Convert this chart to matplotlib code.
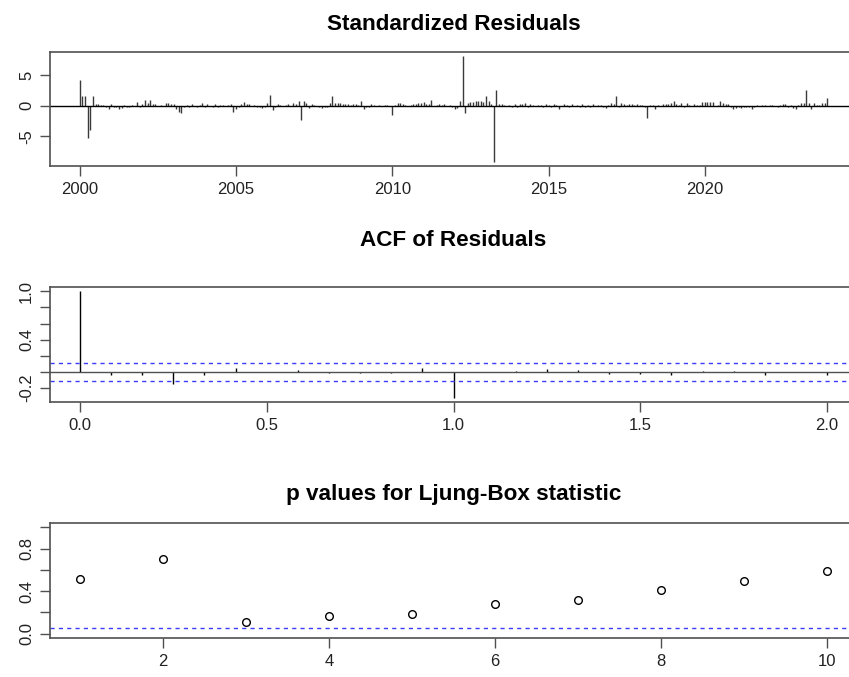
import matplotlib

matplotlib.use("Agg")
import matplotlib.pyplot as plt
import numpy as np

# ── data (tsdiag of a monthly ARIMA fit, 2000-01 .. 2023-12) ──
start_year = 2000
freq = 12
std_resid = [
    4.25, 1.5, 1.5, -5.3, -4.0, 1.5, 0.3, 0.2, 0.1, 0.05, -0.2, -0.6,     # 2000
    0.2, -0.3, -0.2, -0.5, -0.4, 0.1, -0.3, -0.2, 0.15, -0.1, 0.6, -0.3,  # 2001
    0.3, 1.0, 0.5, 1.0, 0.3, 0.2, -0.1, 0.05, -0.1, 0.4, 0.5, 0.3,        # 2002
    0.2, -0.5, -1.0, -1.2, -0.3, 0.1, -0.2, 0.2, -0.1, -0.2, 0.1, 0.4,    # 2003
    -0.2, 0.3, -0.1, -0.3, 0.2, -0.2, 0.1, 0.05, -0.1, 0.1, 0.3, -1.0,    # 2004
    -0.5, -0.3, 0.3, 0.6, 0.2, 0.2, -0.1, 0.1, -0.2, -0.3, -0.4, -0.2,    # 2005
    0.5, 1.8, -0.7, -0.3, 0.2, 0.05, -0.1, 0.1, 0.2, -0.1, 0.5, 0.3,      # 2006
    0.7, -2.3, 0.8, 0.4, -0.4, 0.2, 0.1, -0.1, -0.3, -0.4, -0.2, -0.3,    # 2007
    0.5, 1.5, 0.5, 0.4, 0.4, 0.2, 0.3, 0.3, 0.1, 0.2, 0.2, 0.1,           # 2008
    0.8, -0.5, -0.3, -0.2, 0.2, 0.1, -0.1, 0.1, -0.1, 0.05, 0.1, -0.1,    # 2009
    -1.6, 0.1, 0.4, 0.4, 0.3, 0.05, -0.1, 0.1, 0.2, 0.3, 0.4, 0.5,        # 2010
    0.6, 0.2, 0.3, 1.0, -0.1, 0.1, 0.2, 0.1, 0.2, -0.1, 0.1, -0.3,        # 2011
    -0.5, -0.4, 0.8, 8.1, -1.2, 0.5, 0.6, 0.6, 0.7, 0.7, 0.8, 0.6,        # 2012
    1.5, 0.8, 0.2, -9.2, 2.5, 0.3, 0.2, 0.05, -0.1, 0.1, -0.2, 0.3,       # 2013
    -0.3, 0.3, 0.2, 0.4, -0.2, 0.2, 0.05, -0.1, 0.1, 0.05, -0.2, 0.2,     # 2014
    0.1, -0.2, 0.2, 0.1, -0.6, -0.1, 0.2, 0.1, -0.2, 0.2, -0.1, 0.1,      # 2015
    -0.2, 0.2, -0.3, 0.1, -0.2, 0.3, -0.1, 0.05, 0.1, -0.3, -0.4, 0.1,    # 2016
    0.4, 0.3, 1.5, -0.3, 0.5, 0.2, 0.1, 0.2, 0.2, 0.1, 0.2, 0.1,          # 2017
    0.1, -0.2, -2.0, 0.1, 0.05, -0.5, 0.1, -0.1, 0.2, 0.3, 0.2, 0.5,      # 2018
    0.8, 0.3, 0.1, 0.4, -0.3, 0.4, 0.1, -0.1, 0.2, 0.1, 0.05, 0.6,        # 2019
    0.6, 0.6, 0.6, 0.6, -0.1, 0.1, 0.7, 0.4, 0.2, 0.2, -0.3, -0.5,        # 2020
    -0.4, -0.3, -0.4, -0.2, -0.3, -0.2, -0.6, -0.2, 0.1, -0.1, 0.1, 0.05, # 2021
    -0.1, 0.1, 0.05, -0.1, -0.3, 0.1, 0.2, 0.3, -0.3, 0.1, -0.4, -0.6,    # 2022
    0.1, 0.5, 0.4, 2.6, 0.5, -0.5, 0.4, 0.05, 0.1, 0.5, 0.5, 1.2,         # 2023
]

acf_vals = [
    1.0, -0.04, -0.04, -0.145, -0.04, 0.05, 0.005, 0.03, -0.01, -0.01, -0.01, 0.05,
    -0.32, 0.0, 0.01, 0.035, 0.02, -0.02, -0.02, -0.04, 0.01, 0.01, -0.035, 0.0, -0.04,
]
acf_ci = 0.115

lb_lags = [1, 2, 3, 4, 5, 6, 7, 8, 9, 10]
lb_pvals = [0.51, 0.70, 0.107, 0.163, 0.19, 0.28, 0.32, 0.41, 0.50, 0.59]
lb_level = 0.05

# ── styling ──
AXIS_COL = "#505050"
TEXT_COL = "#222222"
BLUE = "#3c3cff"
DASH = (0, (3, 3))
TITLE_SIZE = 16.2
plt.rcParams["font.family"] = ["Liberation Sans", "DejaVu Sans"]


def r_pad(lo, hi, frac=0.04):
    d = (hi - lo) * frac
    return lo - d, hi + d


def style_axis(ax):
    for sp in ax.spines.values():
        sp.set_color(AXIS_COL)
        sp.set_linewidth(1.2)
    ax.tick_params(direction="out", length=7.5, width=1.0, color=AXIS_COL,
                   labelsize=12, labelcolor=TEXT_COL, pad=4)
    for lab in ax.get_yticklabels():
        lab.set_rotation(90)
        lab.set_va("center")


fig = plt.figure(figsize=(8.49, 6.77), dpi=100)
L, W = 50 / 849, 807 / 849

# Panel 1: standardized residuals
ax1 = fig.add_axes([L, 1 - 166 / 677, W, 114 / 677])
t = start_year + np.arange(len(std_resid)) / freq
ax1.vlines(t, 0, std_resid, color="#3a3a3a", linewidth=1.0)
ax1.axhline(0, color="black", linewidth=1.0)
ax1.set_xlim(*r_pad(t[0], t[-1]))
ax1.set_ylim(*r_pad(min(std_resid), max(std_resid)))
ax1.set_xticks([2000, 2005, 2010, 2015, 2020])
ax1.set_yticks([-5, 0, 5])
ax1.set_xticklabels(["2000", "2005", "2010", "2015", "2020"])
ax1.set_yticklabels(["-5", "0", "5"])
style_axis(ax1)
ax1.set_title("Standardized Residuals", fontsize=TITLE_SIZE, fontweight="bold", pad=15.5)

# Panel 2: ACF of residuals
ax2 = fig.add_axes([L, 1 - 402 / 677, W, 115 / 677])
lags = np.arange(len(acf_vals)) / freq
ax2.vlines(lags, 0, acf_vals, color="black", linewidth=1.0)
ax2.axhline(0, color=AXIS_COL, linewidth=1.0)
ax2.axhline(acf_ci, color=BLUE, linewidth=1.0, linestyle=DASH)
ax2.axhline(-acf_ci, color=BLUE, linewidth=1.0, linestyle=DASH)
ax2.set_xlim(*r_pad(lags[0], lags[-1]))
ax2.set_ylim(*r_pad(min(min(acf_vals), -acf_ci), max(acf_vals)))
ax2.set_xticks([0.0, 0.5, 1.0, 1.5, 2.0])
ax2.set_xticklabels(["0.0", "0.5", "1.0", "1.5", "2.0"])
ax2.set_yticks([-0.2, 0.0, 0.2, 0.4, 0.6, 0.8, 1.0])
ax2.set_yticklabels(["-0.2", "", "", "0.4", "", "", "1.0"])
style_axis(ax2)
ax2.set_title("ACF of Residuals", fontsize=TITLE_SIZE, fontweight="bold", pad=29.5)

# Panel 3: Ljung-Box p-values
ax3 = fig.add_axes([L, 1 - 638 / 677, W, 115 / 677])
ax3.plot(lb_lags, lb_pvals, "o", markersize=5.5, markerfacecolor="none",
         markeredgecolor="black", markeredgewidth=1.0)
ax3.axhline(lb_level, color=BLUE, linewidth=1.0, linestyle=DASH)
ax3.set_xlim(*r_pad(lb_lags[0], lb_lags[-1]))
ax3.set_ylim(*r_pad(0, 1))
ax3.set_xticks([2, 4, 6, 8, 10])
ax3.set_yticks([0.0, 0.2, 0.4, 0.6, 0.8, 1.0])
ax3.set_yticklabels(["0.0", "", "0.4", "", "0.8", ""])
style_axis(ax3)
ax3.set_title("p values for Ljung-Box statistic", fontsize=TITLE_SIZE, fontweight="bold", pad=16.5)

fig.savefig("out.png", dpi=100)
